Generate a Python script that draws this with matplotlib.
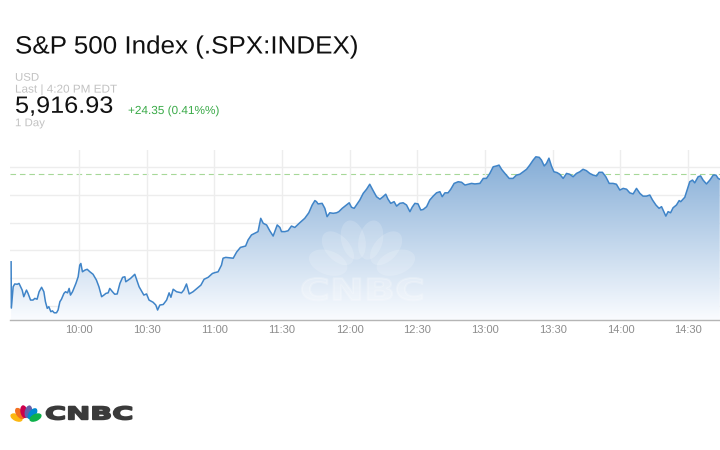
import numpy as np
import matplotlib
matplotlib.use("Agg")
import matplotlib.pyplot as plt
from matplotlib.patches import Polygon, Ellipse
from matplotlib.transforms import Affine2D, IdentityTransform
from matplotlib import patheffects

# ---------------- data ----------------
title = "S&P 500 Index (.SPX:INDEX)"
currency = "USD"
last_label = "Last | 4:20 PM EDT"
last_price = "5,916.93"
change_label = "+24.35 (0.41%%)"
range_label = "1 Day"
prev_close = 5892.58

tick_minutes = [30, 60, 90, 120, 150, 180, 210, 240, 270, 300]
tick_labels = ["10:00", "10:30", "11:00", "11:30", "12:00",
               "12:30", "13:00", "13:30", "14:00", "14:30"]
grid_prices = [5845, 5855, 5865, 5875, 5885, 5895]

# minutes after 9:30 open
minutes = [
    0, 0.1, 0.9, 1.6, 2.7, 3.5, 4.2, 4.9, 5.6, 6.8,
    7.5, 8.6, 9.7, 10.5, 11.5, 12.4, 13.5, 14.5, 15.2, 16.0,
    16.7, 17.6, 18.3, 19.1, 20.1, 20.8, 21.6, 22.3, 23.4, 24.1,
    25.0, 25.7, 26.3, 27.2, 28.7, 29.7, 30.4, 30.9, 31.6, 32.7,
    33.7, 34.9, 36.3, 37.8, 38.9, 40.1, 41.1, 42.0, 43.0, 43.7,
    44.9, 45.9, 47.0, 48.2, 49.4, 50.4, 50.8, 52.9, 54.8, 56.7,
    58.8, 60.0, 61.1, 62.9, 64.1, 64.9, 65.9, 67.4, 68.9, 70.0,
    70.8, 71.8, 73.3, 75.5, 76.5, 77.7, 78.9, 80.6, 82.6, 84.1,
    85.5, 87.3, 89.2, 90.3, 91.7, 93.2, 93.9, 95.1, 98.4, 99.9,
    101.6, 103.9, 105.0, 106.5, 108.0, 109.4, 110.6, 111.7, 113.2, 114.6,
    116.1, 116.8, 117.9, 119.1, 119.8, 121.3, 122.7, 124.2, 125.7, 127.9,
    130.1, 131.9, 133.4, 134.6, 135.3, 136.0, 137.8, 139.0, 140.0, 141.2,
    142.7, 144.2, 145.2, 146.7, 148.6, 149.8, 150.8, 152.0, 154.5, 156.0,
    157.5, 158.9, 160.4, 161.9, 163.4, 164.8, 166.0, 167.0, 168.2, 169.7,
    170.8, 172.2, 173.7, 175.2, 176.7, 177.7, 178.9, 180.3, 181.5, 182.6,
    184.1, 185.5, 187.0, 188.5, 190.0, 191.0, 192.2, 193.6, 194.8, 196.3,
    198.1, 199.6, 201.1, 202.5, 204.0, 205.5, 207.7, 209.2, 210.6, 212.1,
    213.6, 215.1, 216.2, 217.3, 218.8, 220.7, 222.4, 223.9, 225.4, 226.9,
    228.4, 229.8, 231.3, 232.5, 234.0, 235.0, 236.2, 237.2, 238.3, 239.4,
    240.5, 241.9, 243.1, 244.6, 246.1, 247.5, 249.0, 250.5, 252.0, 253.4,
    254.9, 256.4, 257.9, 259.4, 260.5, 262.0, 263.5, 265.0, 266.7, 268.2,
    269.7, 271.2, 272.7, 274.1, 275.6, 277.1, 278.6, 280.0, 281.5, 283.0,
    284.2, 285.7, 287.1, 288.2, 289.2, 290.1, 291.1, 292.2, 293.3, 294.8,
    296.0, 296.7, 298.5, 299.5, 300.7, 301.9, 302.9, 304.4, 305.5, 306.6,
    308.1, 309.6, 311.1, 312.3, 313.3, 314.0,
]
prices = [
    5860.9, 5844.2, 5851.9, 5852.9, 5852.8, 5853.1, 5851.9, 5850.7, 5848.3, 5850.7,
    5849.5, 5847.1, 5847.1, 5847.7, 5847.4, 5850.1, 5851.7, 5850.1, 5846.5, 5844.1,
    5844.7, 5842.9, 5843.2, 5842.5, 5842.5, 5843.5, 5846.5, 5847.4, 5849.5, 5850.1,
    5849.7, 5851.3, 5848.9, 5850.1, 5853.1, 5855.5, 5859.7, 5860.3, 5857.3, 5857.9,
    5858.2, 5857.3, 5856.4, 5854.3, 5851.9, 5848.3, 5848.9, 5849.5, 5849.7, 5851.3,
    5850.1, 5849.2, 5849.3, 5853.1, 5855.3, 5855.5, 5853.7, 5854.9, 5856.4, 5851.9,
    5848.9, 5849.3, 5847.1, 5846.3, 5845.3, 5843.5, 5845.3, 5845.5, 5847.1, 5849.7,
    5848.1, 5851.0, 5850.1, 5849.7, 5850.7, 5852.9, 5849.3, 5850.1, 5851.5, 5852.5,
    5854.6, 5855.3, 5856.7, 5857.0, 5857.3, 5859.7, 5862.2, 5862.5, 5862.2, 5864.4,
    5866.1, 5866.6, 5868.8, 5870.6, 5871.2, 5871.8, 5876.6, 5874.8, 5874.2, 5872.1,
    5870.2, 5871.8, 5874.2, 5873.3, 5871.8, 5871.8, 5872.1, 5873.8, 5873.3, 5875.0,
    5876.6, 5878.6, 5881.4, 5883.0, 5882.6, 5881.8, 5882.0, 5880.2, 5877.2, 5878.6,
    5878.4, 5878.6, 5879.0, 5880.2, 5881.4, 5882.2, 5880.6, 5880.2, 5883.2, 5885.6,
    5887.1, 5888.9, 5886.6, 5884.4, 5883.5, 5884.4, 5885.3, 5883.5, 5882.0, 5882.6,
    5881.0, 5882.0, 5882.2, 5881.4, 5879.0, 5880.6, 5882.0, 5881.8, 5879.6, 5879.8,
    5880.8, 5883.2, 5884.6, 5885.8, 5886.2, 5884.4, 5885.8, 5885.8, 5887.1, 5889.2,
    5889.8, 5889.6, 5888.6, 5888.9, 5889.2, 5889.0, 5889.2, 5891.0, 5891.0, 5892.8,
    5895.2, 5895.5, 5895.8, 5894.3, 5892.8, 5891.0, 5891.0, 5892.2, 5892.5, 5893.4,
    5894.3, 5895.8, 5897.6, 5898.8, 5898.6, 5897.6, 5895.5, 5896.4, 5898.3, 5895.5,
    5893.4, 5893.1, 5892.5, 5891.0, 5892.8, 5892.5, 5891.6, 5892.8, 5893.4, 5894.3,
    5893.8, 5892.8, 5892.2, 5891.9, 5893.2, 5893.2, 5891.6, 5889.2, 5889.2, 5888.9,
    5886.8, 5887.4, 5887.1, 5885.8, 5885.4, 5887.4, 5885.6, 5884.6, 5884.6, 5885.0,
    5883.2, 5881.4, 5880.2, 5880.8, 5879.0, 5877.4, 5879.0, 5878.6, 5880.4, 5881.4,
    5883.0, 5882.6, 5884.2, 5886.8, 5889.8, 5890.4, 5889.4, 5891.6, 5891.9, 5890.4,
    5889.0, 5890.4, 5892.2, 5892.2, 5891.0, 5890.7,
]

# ---------------- helpers ----------------
W, H = 720, 450


class HStretch(patheffects.AbstractPathEffect):
    """Stretch rendered text horizontally about a display x position (optionally embolden)."""
    def __init__(self, sx, x0, stroke=0.0):
        super().__init__()
        self.sx, self.x0, self.stroke = sx, x0, stroke

    def draw_path(self, renderer, gc, tpath, affine, rgbFace=None):
        aff = affine + Affine2D().translate(-self.x0, 0).scale(self.sx, 1).translate(self.x0, 0)
        if self.stroke > 0 and rgbFace is not None:
            gc0 = renderer.new_gc()
            gc0.copy_properties(gc)
            gc0.set_linewidth(self.stroke)
            gc0.set_foreground(rgbFace)
            gc0.set_joinstyle("round")
            renderer.draw_path(gc0, tpath, aff, rgbFace)
            gc0.restore()
        else:
            renderer.draw_path(gc, tpath, aff, rgbFace)


def ftext(x, y, s, sx=1.0, **kw):
    kw.setdefault("path_effects", [HStretch(sx, x)])
    return fig.text(x / W, 1 - y / H, s, va="baseline", ha="left", **kw)


def peacock(target, cx, cy, r, length, width, colors, angles, alpha=1.0, zorder=3, clip=None):
    for a, c in zip(angles, colors):
        th = np.deg2rad(a)
        ex = cx + r * np.cos(th)
        ey = (H - cy) + r * np.sin(th)
        e = Ellipse((ex, ey), length, width, angle=a, facecolor=c, edgecolor="none",
                    alpha=alpha, transform=IdentityTransform(), zorder=zorder)
        if clip is not None:
            target.add_patch(e)
            e.set_clip_path(clip)
        else:
            target.add_artist(e)


# ---------------- figure ----------------
fig = plt.figure(figsize=(7.2, 4.5), dpi=100)
fig.patch.set_facecolor("white")

font = "Liberation Sans"
grey = "#c2c2c2"
ftext(15, 53.5, title, sx=1.04, fontsize=18, family=font, color="#111111")
ftext(15, 80.7, currency, sx=1.03, fontsize=8, family=font, color=grey)
ftext(15, 92.6, last_label, sx=1.03, fontsize=8.2, family=font, color=grey)
ftext(15, 112.8, last_price, sx=1.07, fontsize=17, family=font, color="#111111")
ftext(128, 114.0, change_label, sx=1.01, fontsize=8.4, family=font, color="#3aaa48")
ftext(15, 126.2, range_label, sx=1.03, fontsize=8, family=font, color=grey)

ax = fig.add_axes([10 / W, 130 / H, 710 / W, 170 / H])
x0, x1 = -0.5, 314.1
y0, y1 = 5839.9, 5901.25
ax.set_xlim(x0, x1)
ax.set_ylim(y0, y1)
ax.set_facecolor("white")

ax.set_xticks(tick_minutes)
ax.set_xticklabels(tick_labels)
ax.set_yticks(grid_prices)
ax.grid(True, color="#ededed", lw=1.0, zorder=0)
ax.set_axisbelow(True)
ax.tick_params(axis="both", length=0)
ax.tick_params(axis="y", labelleft=False)
ax.tick_params(axis="x", pad=3.5, labelsize=8, labelcolor="#8c8c8c")
for lab in ax.get_xticklabels():
    lab.set_family(font)
for s in ("left", "right", "top"):
    ax.spines[s].set_visible(False)
ax.spines["bottom"].set_color("#b5b5b5")
ax.spines["bottom"].set_linewidth(1.0)
ax.spines["bottom"].set_zorder(6)

# previous close dashed line (beneath fill)
ax.axhline(prev_close, color="#a6d898", lw=0.8, ls=(0, (5, 3.5)), zorder=0.5)

# gradient area fill
verts = list(zip(minutes, prices)) + [(minutes[-1], y0), (minutes[0], y0)]
poly = Polygon(verts, closed=True, facecolor="none", edgecolor="none", transform=ax.transData)
ax.add_patch(poly)
top = np.array([128, 170, 213]) / 255.0
bot = np.array([250, 252, 255]) / 255.0
f = np.linspace(0, 1, 256)[:, None]
grad = (bot[None, :] * (1 - f) + top[None, :] * f)[:, None, :]
im = ax.imshow(grad, extent=[x0, x1, y0, y1], origin="lower", aspect="auto",
               zorder=1, interpolation="bilinear")
im.set_clip_path(poly)

# watermark (white, subtle)
peacock(ax, 362, 275, 36, 40, 24, ["white"] * 6, [160, 132, 104, 76, 48, 20],
        alpha=0.17, zorder=2, clip=poly)
wm = ax.text(300 / W, 1 - 300 / H, "CNBC", transform=fig.transFigure, ha="left", va="baseline",
             fontsize=21.4, family="DejaVu Sans", weight="bold", color="white", alpha=0.22,
             zorder=2, path_effects=[HStretch(1.37, 300, stroke=1.5)])
wm.set_clip_path(poly)

# price line
ax.plot(minutes, prices, color="#3f84c8", lw=1.1, zorder=5, solid_joinstyle="round")

# ---------------- bottom logo ----------------
peacock(fig, 26, 422, 10.5, 13, 7.2,
        ["#fcb711", "#f37021", "#cc004c", "#6460aa", "#0089d0", "#0db14b"],
        [155, 126, 101, 77, 52, 25])
ftext(45, 419.3, "CNBC", fontsize=12.5, family="DejaVu Sans", weight="bold",
      color="#3a3a3a", path_effects=[HStretch(1.66, 45, stroke=1.3)])

fig.savefig("out.png", dpi=100, facecolor="white")
